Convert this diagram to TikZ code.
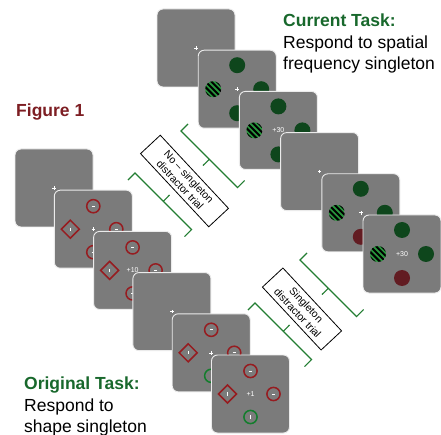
\documentclass[tikz,border=0pt]{standalone}
\usepackage{fontspec}
\setmainfont{Liberation Sans}
\usetikzlibrary{calc}

\definecolor{panelgray}{RGB}{123,123,123}
\definecolor{panelrim}{RGB}{235,235,235}
\definecolor{taskgreen}{RGB}{24,104,44}
\definecolor{figred}{RGB}{125,30,35}
\definecolor{ringred}{RGB}{150,28,32}
\definecolor{ringgreen}{RGB}{20,125,45}
\definecolor{discgreen}{RGB}{14,70,28}
\definecolor{discred}{RGB}{98,28,34}
\definecolor{stripegreen}{RGB}{40,150,60}
\definecolor{bracegreen}{RGB}{35,125,50}

\tikzset{
  panel/.style={draw=panelrim, line width=0.9pt, fill=panelgray, rounded corners=6pt,
    minimum size=78pt, inner sep=0pt, outer sep=0pt},
  bigtext/.style={font=\fontsize{17.5}{21}\selectfont, inner sep=0pt, anchor=base west},
  boldtext/.style={bigtext, font=\fontsize{17.5}{21}\selectfont\bfseries},
  scoretext/.style={text=white, font=\fontsize{7}{8}\selectfont, inner sep=0pt},
  labelbox/.style={draw=black, line width=0.8pt, fill=white, align=center, inner sep=1pt,
    font=\fontsize{10.5}{12}\selectfont, rotate=-47},
  bracepen/.style={draw=bracegreen, line width=1.1pt},
  fixcross/.pic={\draw[white, line width=0.6pt] (-1.8,0)--(1.8,0) (0,-1.8)--(0,1.8);},
  gdisc/.pic={\fill[discgreen] (0,0) circle (8);},
  rdisc/.pic={\fill[discred] (0,0) circle (8);},
  sdisc/.pic={\begin{scope}
      \clip (0,0) circle (8);
      \fill[stripegreen] (0,0) circle (8);
      \begin{scope}[rotate=-45]
        \foreach \k in {-8,-4,...,8}{\draw[black, line width=2pt] (-12,\k)--(12,\k);}
      \end{scope}
    \end{scope}},
  redring/.pic={\draw[ringred, line width=1.5pt] (0,0) circle (6.6);
    \draw[white, line width=0.7pt] (-1.6,0)--(1.6,0);},
  greenring/.pic={\draw[ringgreen, line width=1.5pt] (0,0) circle (6.6);
    \draw[white, line width=0.7pt] (0,-1.6)--(0,1.6);},
  reddiamond/.pic={\draw[ringred, line width=1.5pt] (0,-9)--(9,0)--(0,9)--(-9,0)--cycle;
    \draw[white, line width=0.7pt] (0,-1.6)--(0,1.6);},
}

% four-item displays: spatial frequency task and shape task
\newcommand\freqset[2]{%
  \pic at ($(#1)+(0,-24)$) {gdisc};
  \pic at ($(#1)+(-24,0)$) {sdisc};
  \pic at ($(#1)+(24,0)$) {gdisc};
  \pic at ($(#1)+(0,24)$) {#2};}
\newcommand\shapeset[2]{%
  \pic at ($(#1)+(0,-23)$) {redring};
  \pic at ($(#1)+(-23,0)$) {reddiamond};
  \pic at ($(#1)+(23,0)$) {redring};
  \pic at ($(#1)+(0,23)$) {#2};}

\begin{document}
\begin{tikzpicture}[x=1pt, y=-1pt]
\useasboundingbox (0,0) rectangle (441,435);

% spatial frequency sequence
\node[panel] (a1) at (196,48) {};
\pic at (a1) {fixcross};
\node[panel] (a2) at (237.2,89.2) {};
\freqset{a2}{gdisc}
\pic at (a2) {fixcross};
\node[panel] (a3) at (278.4,130.4) {};
\freqset{a3}{gdisc}
\node[scoretext] (a3s) at (a3) {+30};
\node[panel] (a4) at (319.6,171.6) {};
\pic at (a4) {fixcross};
\node[panel] (a5) at (360.8,212.8) {};
\freqset{a5}{rdisc}
\pic at (a5) {fixcross};
\node[panel] (a6) at (402,254) {};
\freqset{a6}{rdisc}
\node[scoretext] (a6s) at (a6) {+30};

% shape sequence
\node[panel] (b1) at (54,188) {};
\pic at (b1) {fixcross};
\node[panel] (b2) at (93.3,229.2) {};
\shapeset{b2}{redring}
\pic at (b2) {fixcross};
\node[panel] (b3) at (132.6,270.4) {};
\shapeset{b3}{redring}
\node[scoretext] (b3s) at (b3) {+10};
\node[panel] (b4) at (171.9,311.6) {};
\pic at (b4) {fixcross};
\node[panel] (b5) at (211.2,352.8) {};
\shapeset{b5}{greenring}
\pic at (b5) {fixcross};
\node[panel] (b6) at (250.5,394) {};
\shapeset{b6}{greenring}
\node[scoretext] (b6s) at (b6) {+1};

% trial braces: end hooks face the displays, middle tip faces the label
\draw[bracepen] (188.1,123.9) -- (181,131) -- (237.6,187.6) -- (244.6,180.5)
  (209.3,159.3) -- (202.9,165.6);
\draw[bracepen] (307.1,252.9) -- (300,260) -- (356.6,316.6) -- (363.6,309.5)
  (328.3,288.3) -- (321.9,294.6);
\draw[bracepen] (127.9,180.1) -- (135,173) -- (191.6,229.6) -- (184.5,236.6)
  (163.3,201.3) -- (169.6,194.9);
\draw[bracepen] (247.9,310.1) -- (255,303) -- (311.6,359.6) -- (304.5,366.6)
  (283.3,331.3) -- (289.6,324.9);

% trial type labels
\node[labelbox, minimum width=100pt, minimum height=27pt] (nolabel) at (184.5,181)
  {No – singleton\\distractor trial};
\node[labelbox, minimum width=86pt, minimum height=28pt] (yeslabel) at (302,309)
  {Singleton\\distractor trial};

% headings
\node[boldtext, text=figred] (figtitle) at (16,117) {Figure 1};
\node[boldtext, text=taskgreen] (curtitle) at (283,27) {Current Task:};
\node[bigtext] (curline1) at (283,49) {Respond to spatial};
\node[bigtext] (curline2) at (283,70) {frequency singleton};
\node[boldtext, text=taskgreen] (origtitle) at (24,389) {Original Task:};
\node[bigtext] (origline1) at (24,411) {Respond to};
\node[bigtext] (origline2) at (24,432) {shape singleton};
\end{tikzpicture}
\end{document}
